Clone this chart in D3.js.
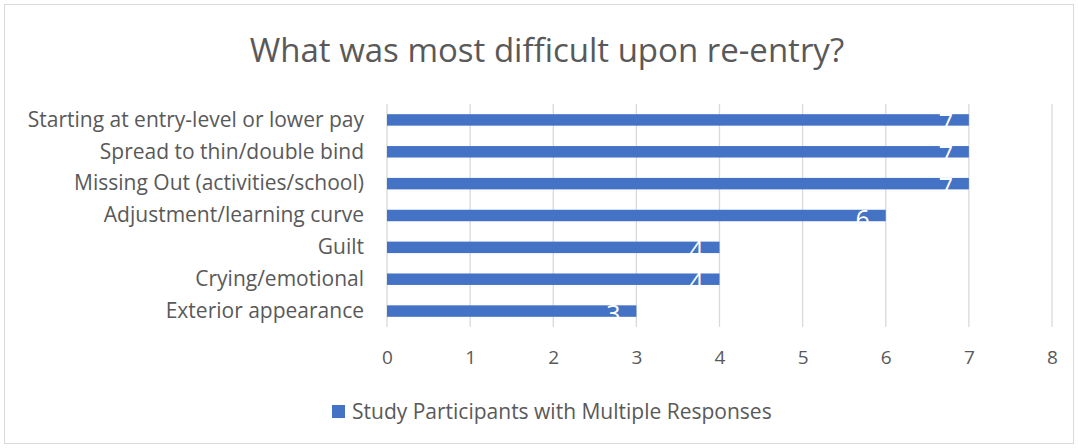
<!DOCTYPE html>
<html><head><meta charset="utf-8">
<script src="https://cdn.jsdelivr.net/npm/d3@7"></script>
<style>body{margin:0;background:#fff}svg{display:block}text{font-family:"Open Sans",sans-serif}</style>
</head><body><svg id="c" width="1078" height="448"></svg>
<script>
const categories = ["Starting at entry-level or lower pay","Spread to thin/double bind","Missing Out (activities/school)","Adjustment/learning curve","Guilt","Crying/emotional","Exterior appearance"];
const values = [7,7,7,6,4,4,3];
const ticks = [0,1,2,3,4,5,6,7,8];
const seriesName = "Study Participants with Multiple Responses";
const title = "What was most difficult upon re-entry?";

const svg = d3.select("#c");
const W=1078,H=448;
svg.append("rect").attr("x",4.5).attr("y",4.5).attr("width",W-9).attr("height",H-9).attr("fill","#fff").attr("stroke","#d9d9d9");
svg.append("text").attr("x",547).attr("y",62).attr("text-anchor","middle").attr("font-size",33).attr("fill","#595959").text(title);

const x = d3.scaleLinear().domain([0,8]).range([387,1052]);
const y = d3.scaleBand().domain(categories).range([104,327]).paddingInner(0.64).paddingOuter(0.32);
const grid = svg.append("g");
grid.selectAll("line").data(ticks).join("line").attr("x1",d=>x(d)).attr("x2",d=>x(d)).attr("y1",104).attr("y2",327).attr("stroke","#d9d9d9").attr("stroke-width",1.3);

svg.append("g").selectAll("rect").data(values).join("rect")
 .attr("x",x(0)).attr("y",(d,i)=>y(categories[i])).attr("width",d=>x(d)-x(0)).attr("height",y.bandwidth()).attr("fill","#4472c4");

svg.append("g").selectAll("text").data(values).join("text")
 .attr("x",d=>x(d)-23).attr("y",(d,i)=>y(categories[i])+y.bandwidth()/2+12).attr("text-anchor","middle")
 .attr("font-size",25).attr("fill","#fff").text(d=>d);

const xa = svg.append("g").attr("transform","translate(0,357)").call(d3.axisBottom(x).tickValues(ticks).tickSize(0).tickPadding(0));
xa.select(".domain").remove();
xa.selectAll("text").attr("font-size",19).attr("fill","#595959").attr("font-family","Open Sans").attr("dy","0.35em").attr("y",0);

const ya = svg.append("g").attr("transform","translate(364,0)").call(d3.axisLeft(y).tickSize(0).tickPadding(0));
ya.select(".domain").remove();
ya.selectAll("text").attr("font-size",21).attr("fill","#595959").attr("font-family","Open Sans");

svg.append("rect").attr("x",332).attr("y",405).attr("width",13).attr("height",13).attr("fill","#4472c4");
svg.append("text").attr("x",352).attr("y",419).attr("font-size",21).attr("fill","#595959").text(seriesName);
</script></body></html>
